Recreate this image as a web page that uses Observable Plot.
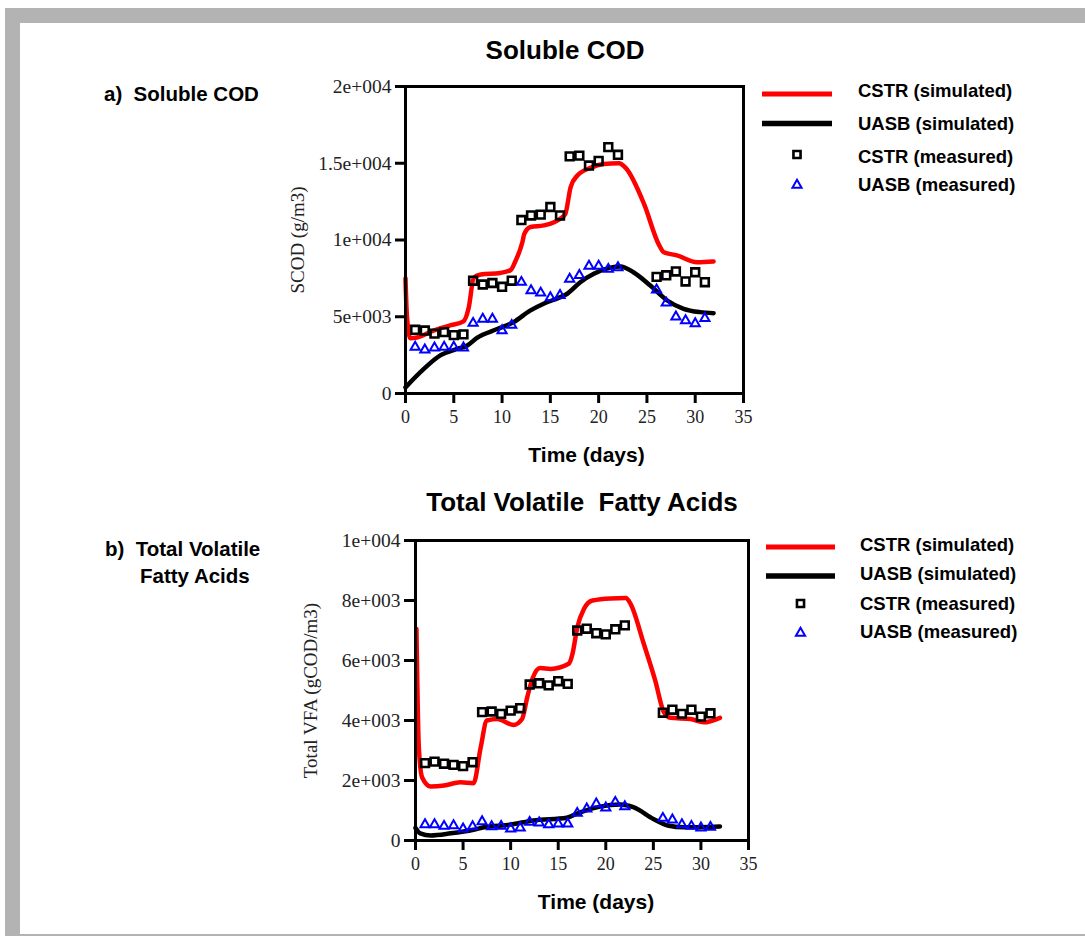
<!DOCTYPE html>
<html>
<head>
<meta charset="utf-8">
<script src="https://cdn.jsdelivr.net/npm/d3@7"></script>
<script src="https://cdn.jsdelivr.net/npm/@observablehq/plot@0.6"></script>
<style>
  html, body { margin: 0; padding: 0; background: #fff; }
  #page { position: relative; width: 1085px; height: 936px; overflow: hidden; background: #fff; }
  .band { position: absolute; background: #b3b3b3; }
  .layer { position: absolute; left: 0; }
  svg text { white-space: pre; }
</style>
</head>
<body>
<div id="page">
  <div class="band" style="left:5px;top:8px;width:1080px;height:15px"></div>
  <div class="band" style="left:5px;top:8px;width:15px;height:928px"></div>
  <div class="band" style="left:20px;top:934px;width:1065px;height:2px"></div>
</div>
<script>
// ---------- data ----------
const xTicks = [0, 5, 10, 15, 20, 25, 30, 35];
const xTickLabels = ["0", "5", "10", "15", "20", "25", "30", "35"];

const codYTicks = [0, 5000, 10000, 15000, 20000];
const codYTickLabels = ["0", "5e+003", "1e+004", "1.5e+004", "2e+004"];
const vfaYTicks = [0, 2000, 4000, 6000, 8000, 10000];
const vfaYTickLabels = ["0", "2e+003", "4e+003", "6e+003", "8e+003", "1e+004"];

const measuredDays = [1, 2, 3, 4, 5, 6, 7, 8, 9, 10, 11, 12, 13, 14, 15, 16, 17, 18, 19, 20, 21, 22, 26, 27, 28, 29, 30, 31];

// Soluble COD (g/m3)
const codCstrMeasured = [4150, 4100, 3900, 4000, 3800, 3850, 7350, 7100, 7200, 6950, 7350, 11300, 11600, 11650, 12150, 11600, 15450, 15500, 14850, 15150, 16050, 15550, 7600, 7700, 7950, 7300, 7900, 7250];
const codUasbMeasured = [3020, 2850, 2980, 3020, 3020, 2980, 4580, 4850, 4850, 4100, 4450, 7250, 6700, 6550, 6250, 6400, 7450, 7700, 8300, 8300, 8100, 8200, 6750, 5900, 5000, 4750, 4550, 4900];

const codCstrSimDays = [0, 0.15, 0.5, 1.2, 2.9, 4.7, 6.0, 6.55, 7.07, 7.8, 9.8, 10.9, 11.4, 12.1, 12.3, 12.95, 14.3, 16.05, 16.55, 17.1, 17.8, 19.15, 20.5, 22.1, 22.8, 24.7, 26.2, 26.75, 28.1, 30.2, 31.9];
const codCstrSim = [7500, 5000, 3600, 3650, 4100, 4450, 4700, 5600, 7550, 7750, 7850, 8050, 8650, 9850, 10400, 10850, 10950, 11400, 11700, 13450, 14200, 14700, 14950, 15000, 14700, 12350, 9750, 9200, 9000, 8550, 8600];
const codUasbSimDays = [0, 1.9, 3.6, 5.35, 6.4, 7.4, 9.5, 11.2, 12.9, 14.3, 16.05, 16.75, 18.1, 19.5, 21.2, 22.25, 23.6, 25.35, 27.1, 28.8, 30.5, 31.9];
const codUasbSim = [400, 1600, 2480, 2900, 3130, 3630, 4200, 4650, 5400, 5850, 6280, 6500, 7250, 7800, 8200, 8280, 7900, 7030, 6060, 5520, 5300, 5230];

// Total VFA (gCOD/m3)
const vfaCstrMeasured = [2580, 2630, 2560, 2520, 2480, 2610, 4280, 4300, 4220, 4330, 4410, 5200, 5240, 5170, 5310, 5220, 7000, 7060, 6910, 6870, 7040, 7170, 4260, 4360, 4220, 4360, 4130, 4240];
const vfaUasbMeasured = [533, 533, 477, 500, 390, 467, 633, 467, 477, 390, 423, 610, 590, 533, 556, 556, 910, 1056, 1223, 1090, 1277, 1133, 743, 690, 533, 477, 423, 443];

const vfaCstrSimDays = [0.1, 0.35, 0.7, 1.6, 3.0, 4.7, 6.1, 6.85, 7.5, 8.6, 10.3, 11.2, 11.75, 12.3, 13.1, 14.2, 16.1, 16.5, 17.0, 17.7, 18.6, 20.5, 22.1, 22.6, 24.0, 25.2, 26.1, 26.8, 28.9, 30.3, 32.0];
const vfaCstrSim = [7050, 3100, 2100, 1800, 1830, 1940, 1910, 3100, 4000, 4050, 3850, 4050, 4780, 5400, 5750, 5720, 5890, 6220, 7100, 7720, 8000, 8070, 8080, 7890, 6550, 5330, 4280, 4090, 4050, 3940, 4090];
const vfaUasbSimDays = [0, 0.5, 1.6, 3.7, 6.1, 7.2, 10.0, 12.4, 15.9, 17.3, 19.4, 21.5, 22.9, 25.0, 26.5, 28.2, 32.0];
const vfaUasbSim = [420, 240, 170, 240, 360, 440, 530, 670, 760, 940, 1130, 1200, 1110, 720, 500, 440, 470];

const legendLabels = ["CSTR (simulated)", "UASB (simulated)", "CSTR (measured)", "UASB (measured)"];

// ---------- helpers ----------
const SERIF = "Liberation Serif, Times New Roman, serif";
const SANS = "Liberation Sans, Arial, Helvetica, sans-serif";
const pairs = (xs, ys) => xs.map((x, i) => ({x, y: ys[i]}));
const labelFor = (ticks, labels) => d => labels[ticks.indexOf(d)] ?? "";

function panel({top, height, mTop, mBottom, mLeft, mRight, yDomain, yTicks, yLabels, yTickSize,
                cstrSim, uasbSim, cstrMeas, uasbMeas, yTitle, yTitleDx, xTitleDx}) {
  const chart = Plot.plot({
    width: 1085, height,
    marginTop: mTop, marginBottom: mBottom, marginLeft: mLeft, marginRight: mRight,
    style: {background: "transparent", overflow: "visible", color: "black"},
    x: {domain: [0, 35]},
    y: {domain: yDomain},
    marks: [
      Plot.line(cstrSim, {x: "x", y: "y", stroke: "#ff0000", strokeWidth: 4.5, curve: "monotone-x"}),
      Plot.line(uasbSim, {x: "x", y: "y", stroke: "#000000", strokeWidth: 4.5, curve: "monotone-x"}),
      Plot.dot(cstrMeas, {x: "x", y: "y", symbol: "square", r: 4.4, stroke: "#000", strokeWidth: 2.6, fill: "none"}),
      Plot.dot(uasbMeas, {x: "x", y: "y", symbol: "triangle", r: 3.4, stroke: "#0000ff", strokeWidth: 2, fill: "none"}),
      Plot.frame({stroke: "#000", strokeWidth: 3}),
      Plot.axisX({ticks: xTicks, tickFormat: labelFor(xTicks, xTickLabels), tickSize: 10, strokeWidth: 3,
                  tickPadding: 7, fontSize: 18, fontFamily: SERIF, label: null, fill: "#222"}),
      Plot.axisY({ticks: yTicks, tickFormat: labelFor(yTicks, yLabels), tickSize: yTickSize, strokeWidth: 3,
                  tickPadding: 4, fontSize: 19.5, fontFamily: SERIF, label: null, fill: "#222"}),
      Plot.text(["Time (days)"], {frameAnchor: "bottom", dy: 62, dx: xTitleDx, text: d => d, fontSize: 21,
                  fontWeight: "bold", fontFamily: SANS, textAnchor: "middle", lineAnchor: "middle", fill: "#000"}),
      Plot.text([yTitle], {frameAnchor: "left", dx: yTitleDx, rotate: -90, text: d => d, fontSize: 19,
                  fontFamily: SERIF, textAnchor: "middle", lineAnchor: "middle", fill: "#222"})
    ]
  });
  chart.classList.add("layer");
  chart.style.top = top + "px";
  document.getElementById("page").appendChild(chart);
}

panel({
  top: 0, height: 480, mTop: 86, mBottom: 87, mLeft: 405, mRight: 342,
  yDomain: [0, 20000], yTicks: codYTicks, yLabels: codYTickLabels, yTickSize: 10,
  cstrSim: pairs(codCstrSimDays, codCstrSim), uasbSim: pairs(codUasbSimDays, codUasbSim),
  cstrMeas: pairs(measuredDays, codCstrMeasured), uasbMeas: pairs(measuredDays, codUasbMeasured),
  yTitle: "SCOD (g/m3)", yTitleDx: -108, xTitleDx: 12
});

panel({
  top: 470, height: 466, mTop: 70, mBottom: 96, mLeft: 415, mRight: 337,
  yDomain: [0, 10000], yTicks: vfaYTicks, yLabels: vfaYTickLabels, yTickSize: 11,
  cstrSim: pairs(vfaCstrSimDays, vfaCstrSim), uasbSim: pairs(vfaUasbSimDays, vfaUasbSim),
  cstrMeas: pairs(measuredDays, vfaCstrMeasured), uasbMeas: pairs(measuredDays, vfaUasbMeasured),
  yTitle: "Total VFA (gCOD/m3)", yTitleDx: -105, xTitleDx: 14
});

// ---------- titles, panel labels, legends ----------
const svg = d3.select("#page").append("svg")
  .attr("class", "layer").style("top", "0px")
  .attr("width", 1085).attr("height", 936);

const texts = [
  {t: "Soluble COD", x: 565, y: 59, size: 26, anchor: "middle"},
  {t: "a)  Soluble COD", x: 104, y: 101, size: 20.5, anchor: "start"},
  {t: "Total Volatile  Fatty Acids", x: 582, y: 511, size: 26, anchor: "middle"},
  {t: "b)  Total Volatile", x: 105, y: 556, size: 20.5, anchor: "start"},
  {t: "Fatty Acids", x: 140, y: 583, size: 20.5, anchor: "start"}
];
svg.selectAll("text.title").data(texts).join("text")
  .attr("class", "title")
  .attr("x", d => d.x).attr("y", d => d.y)
  .attr("text-anchor", d => d.anchor)
  .attr("font-family", SANS).attr("font-weight", "bold")
  .attr("font-size", d => d.size).attr("fill", "#000")
  .text(d => d.t);

function legend(g, {x0, x1, tx, baselines, ys}) {
  const cx = (x0 + x1) / 2;
  g.append("line").attr("x1", x0).attr("x2", x1).attr("y1", ys[0]).attr("y2", ys[0])
    .attr("stroke", "#ff0000").attr("stroke-width", 5);
  g.append("line").attr("x1", x0).attr("x2", x1).attr("y1", ys[1]).attr("y2", ys[1])
    .attr("stroke", "#000").attr("stroke-width", 5.5);
  g.append("path").attr("transform", `translate(${cx},${ys[2]})`)
    .attr("d", d3.symbol(d3.symbolSquare, Math.PI * 4.0 * 4.0)())
    .attr("fill", "none").attr("stroke", "#000").attr("stroke-width", 2.6);
  g.append("path").attr("transform", `translate(${cx},${ys[3]})`)
    .attr("d", d3.symbol(d3.symbolTriangle, Math.PI * 3.4 * 3.4)())
    .attr("fill", "none").attr("stroke", "#0000ff").attr("stroke-width", 2);
  legendLabels.forEach((lab, i) => {
    g.append("text").attr("x", tx).attr("y", baselines[i])
      .attr("font-family", SANS).attr("font-weight", "bold").attr("font-size", 18.5)
      .attr("fill", "#000").text(lab);
  });
}
legend(svg.append("g"), {x0: 762, x1: 832, tx: 858, baselines: [96.5, 129.5, 162.5, 190.5], ys: [94, 123.5, 154.5, 185]});
legend(svg.append("g"), {x0: 766, x1: 835, tx: 860, baselines: [550.5, 579.5, 609.5, 637.5], ys: [547, 576, 603.5, 633]});
</script>
</body>
</html>
